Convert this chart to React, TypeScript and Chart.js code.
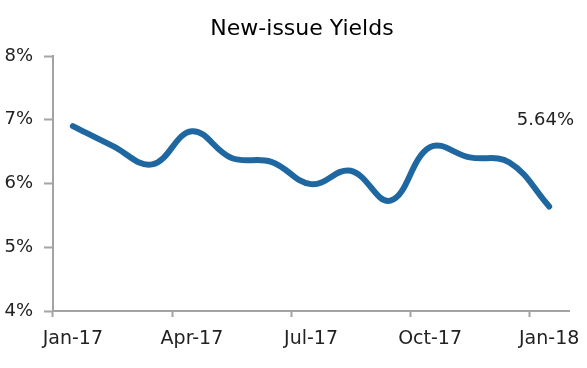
import React, { useEffect, useRef } from "react";
import { Chart, registerables } from "chart.js";

Chart.register(...registerables);

const months = ["Jan-17","Feb-17","Mar-17","Apr-17","May-17","Jun-17","Jul-17","Aug-17","Sep-17","Oct-17","Nov-17","Dec-17","Jan-18"];
const yields = [6.90, 6.59, 6.30, 6.82, 6.40, 6.34, 5.99, 6.20, 5.73, 6.57, 6.41, 6.33, 5.64];
const yTicks = [4, 5, 6, 7, 8];
const title = "New-issue Yields";
const lastLabel = "5.64%";

const FONT = "'DejaVu Sans', 'Noto Sans', sans-serif";
const AXIS = "#a3a3a3";
const LINE = "#1f67a0";

const textPlugin = {
  id: "texts",
  afterDatasetsDraw(chart: any) {
    const { ctx, scales, chartArea } = chart;
    ctx.save();
    ctx.fillStyle = "#222";
    ctx.font = `18px ${FONT}`;
    ctx.textAlign = "right";
    ctx.textBaseline = "middle";
    ctx.fillText(lastLabel, chartArea.right + 5, scales.y.getPixelForValue(7) + 1);
    ctx.fillStyle = "#000";
    ctx.font = `22px ${FONT}`;
    ctx.textAlign = "center";
    ctx.textBaseline = "alphabetic";
    ctx.fillText(title, (chartArea.left + chartArea.right) / 2 - 9, chartArea.top - 21);
    ctx.restore();
  },
};

export default function App() {
  const ref = useRef<HTMLCanvasElement>(null);
  useEffect(() => {
    const chart = new Chart(ref.current!, {
      type: "line",
      data: {
        labels: months,
        datasets: [{
          data: yields,
          borderColor: LINE,
          borderWidth: 6,
          pointRadius: 0,
          tension: 0.4,
          fill: false,
          borderCapStyle: "round",
        }],
      },
      plugins: [textPlugin],
      options: {
        responsive: false,
        animation: false,
        layout: { padding: { top: 56, right: 18, left: 0, bottom: 0 } },
        plugins: {
          legend: { display: false },
          tooltip: { enabled: false },
          title: { display: false },
        },
        scales: {
          x: {
            offset: true,
            grid: {
              offset: true,
              drawOnChartArea: false,
              tickLength: 6,
              tickWidth: 2,
              tickColor: (c: any) => (c.index % 3 === 0 && c.index < months.length ? AXIS : "rgba(0,0,0,0)"),
            },
            border: { color: AXIS, width: 2 },
            ticks: {
              autoSkip: false,
              maxRotation: 0,
              padding: 11,
              color: "#222",
              font: { family: FONT, size: 19 },
              callback: (_v: any, i: number) => (i % 3 === 0 ? months[i] : ""),
            },
            afterFit: (s: any) => { s.height = 57; s.paddingLeft = 0; s.paddingRight = 0; },
          },
          y: {
            min: yTicks[0],
            max: yTicks[yTicks.length - 1],
            afterBuildTicks: (s: any) => { s.ticks = yTicks.map((v) => ({ value: v })); },
            grid: { drawOnChartArea: false, tickLength: 9, tickWidth: 2, color: AXIS },
            border: { color: AXIS, width: 2 },
            ticks: {
              padding: 11,
              color: "#222",
              font: { family: FONT, size: 18 },
              callback: (v: any) => `${v}%`,
            },
            afterFit: (s: any) => { s.width = 53; s.paddingTop = 0; s.paddingBottom = 0; },
          },
        },
      },
    });
    return () => chart.destroy();
  }, []);
  return (
    <div style={{ position: "fixed", left: 0, top: 0, width: 587, height: 368, background: "#fff" }}>
      <canvas ref={ref} width={587} height={368} />
    </div>
  );
}
